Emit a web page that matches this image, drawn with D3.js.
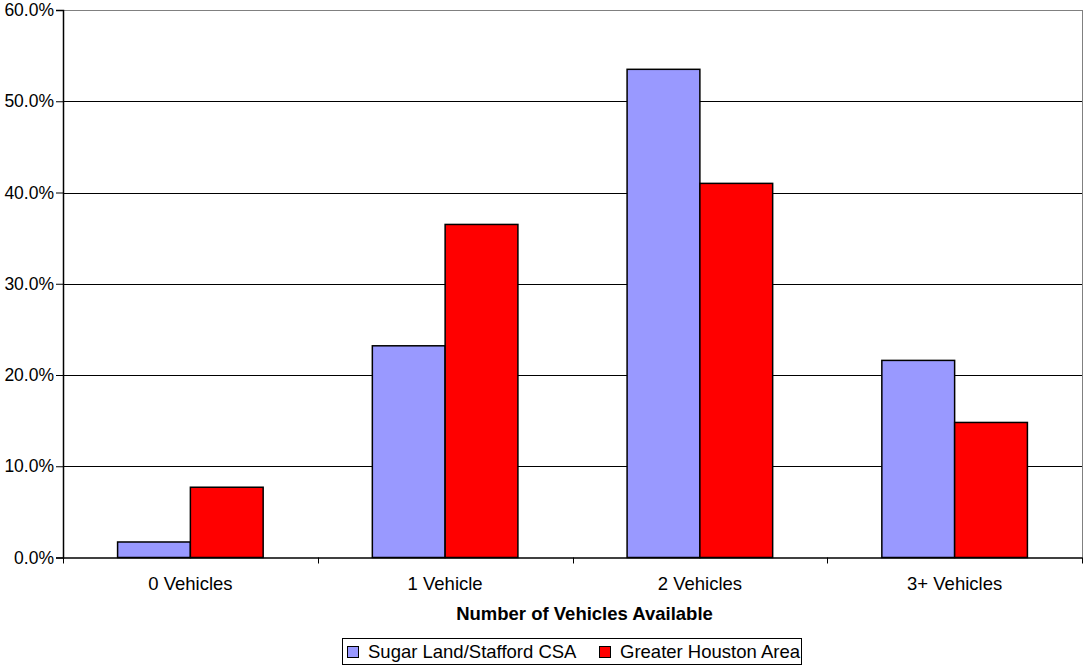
<!DOCTYPE html>
<html><head><meta charset="utf-8">
<script src="https://cdn.jsdelivr.net/npm/d3@7"></script>
<style>body{margin:0;background:#fff}svg{display:block;font-family:"Liberation Sans",Arial,sans-serif}</style>
</head><body><svg id="c" width="1084" height="666"></svg>
<script>
const categories = ["0 Vehicles","1 Vehicle","2 Vehicles","3+ Vehicles"];
const seriesNames = ["Sugar Land/Stafford CSA","Greater Houston Area"];
const sugarLand = [1.7, 23.2, 53.5, 21.6];
const houston = [7.7, 36.5, 41.0, 14.8];
const yTicks = [0,10,20,30,40,50,60];
const colors = ["#9999ff","#ff0000"];
const xTitle = "Number of Vehicles Available";

const svg = d3.select("#c");
const L = 63, R = 1082, T = 10, B = 557.5;
const x = d3.scaleBand().domain(categories).range([L, R]).paddingInner(0).paddingOuter(0);
const y = d3.scaleLinear().domain([0, 60]).range([B, T]);
const barW = x.bandwidth() / 3.5;
const series = [sugarLand, houston];

// gridlines
svg.append("g").selectAll("line").data(yTicks.filter(d => d > 0)).join("line")
  .attr("x1", L).attr("x2", R)
  .attr("y1", d => Math.round(y(d)) + 0.5).attr("y2", d => Math.round(y(d)) + 0.5)
  .attr("stroke", d => d === 60 ? "#808080" : "#000").attr("stroke-width", 1);
// right border
svg.append("line").attr("x1", R + 0.5).attr("x2", R + 0.5).attr("y1", Math.round(y(60))).attr("y2", B)
  .attr("stroke", "#808080");

// bars
series.forEach((vals, si) => {
  svg.append("g").selectAll("rect").data(vals).join("rect")
    .attr("x", (d, i) => x(categories[i]) + barW * 0.75 + si * barW)
    .attr("y", d => y(d))
    .attr("width", barW)
    .attr("height", d => B - y(d))
    .attr("fill", colors[si])
    .attr("stroke", "#000").attr("stroke-width", 1.5);
});

// y axis
const yAxis = d3.axisLeft(y).tickValues(yTicks).tickSize(7).tickFormat(d => d.toFixed(1) + "%");
const gy = svg.append("g").attr("transform", `translate(${L},0)`).call(yAxis);
gy.select(".domain").attr("stroke", "#000").attr("stroke-width", 1.5);
gy.selectAll(".tick line").attr("stroke", "#000");
gy.selectAll("text").attr("font-size", 17.5).attr("fill", "#000").attr("x", -9).attr("font-family", "Liberation Sans, Arial, sans-serif");

// x axis
const xAxis = d3.axisBottom(x).tickSize(0).tickSizeOuter(0);
const gx = svg.append("g").attr("transform", `translate(0,${B})`).call(xAxis);
gx.select(".domain").attr("stroke", "#000").attr("stroke-width", 1.5);
gx.selectAll("text").attr("font-size", 18.5).attr("fill", "#000").attr("dy", null).attr("y", 32.5)
  .attr("font-family", "Liberation Sans, Arial, sans-serif");
// category separator ticks
const bounds = categories.map(c => x(c)).concat([R]);
svg.append("g").selectAll("line").data(bounds).join("line")
  .attr("x1", d => Math.round(d) + 0.5).attr("x2", d => Math.round(d) + 0.5)
  .attr("y1", B).attr("y2", B + 6).attr("stroke", "#000");

// axis title
svg.append("text").attr("x", (L + R) / 2 + 12).attr("y", 620).attr("text-anchor", "middle")
  .attr("font-size", 18.5).attr("font-weight", "bold").text(xTitle);

// legend
const lg = svg.append("g");
lg.append("rect").attr("x", 342.5).attr("y", 638.5).attr("width", 459).attr("height", 26)
  .attr("fill", "#fff").attr("stroke", "#000");
const legX = [347, 599];
seriesNames.forEach((n, i) => {
  lg.append("rect").attr("x", legX[i] + 0.5).attr("y", 646.5).attr("width", 11).attr("height", 11)
    .attr("fill", colors[i]).attr("stroke", "#000");
  lg.append("text").attr("x", legX[i] + 21).attr("y", 657.5).attr("font-size", 18.5).text(n);
});
</script></body></html>
